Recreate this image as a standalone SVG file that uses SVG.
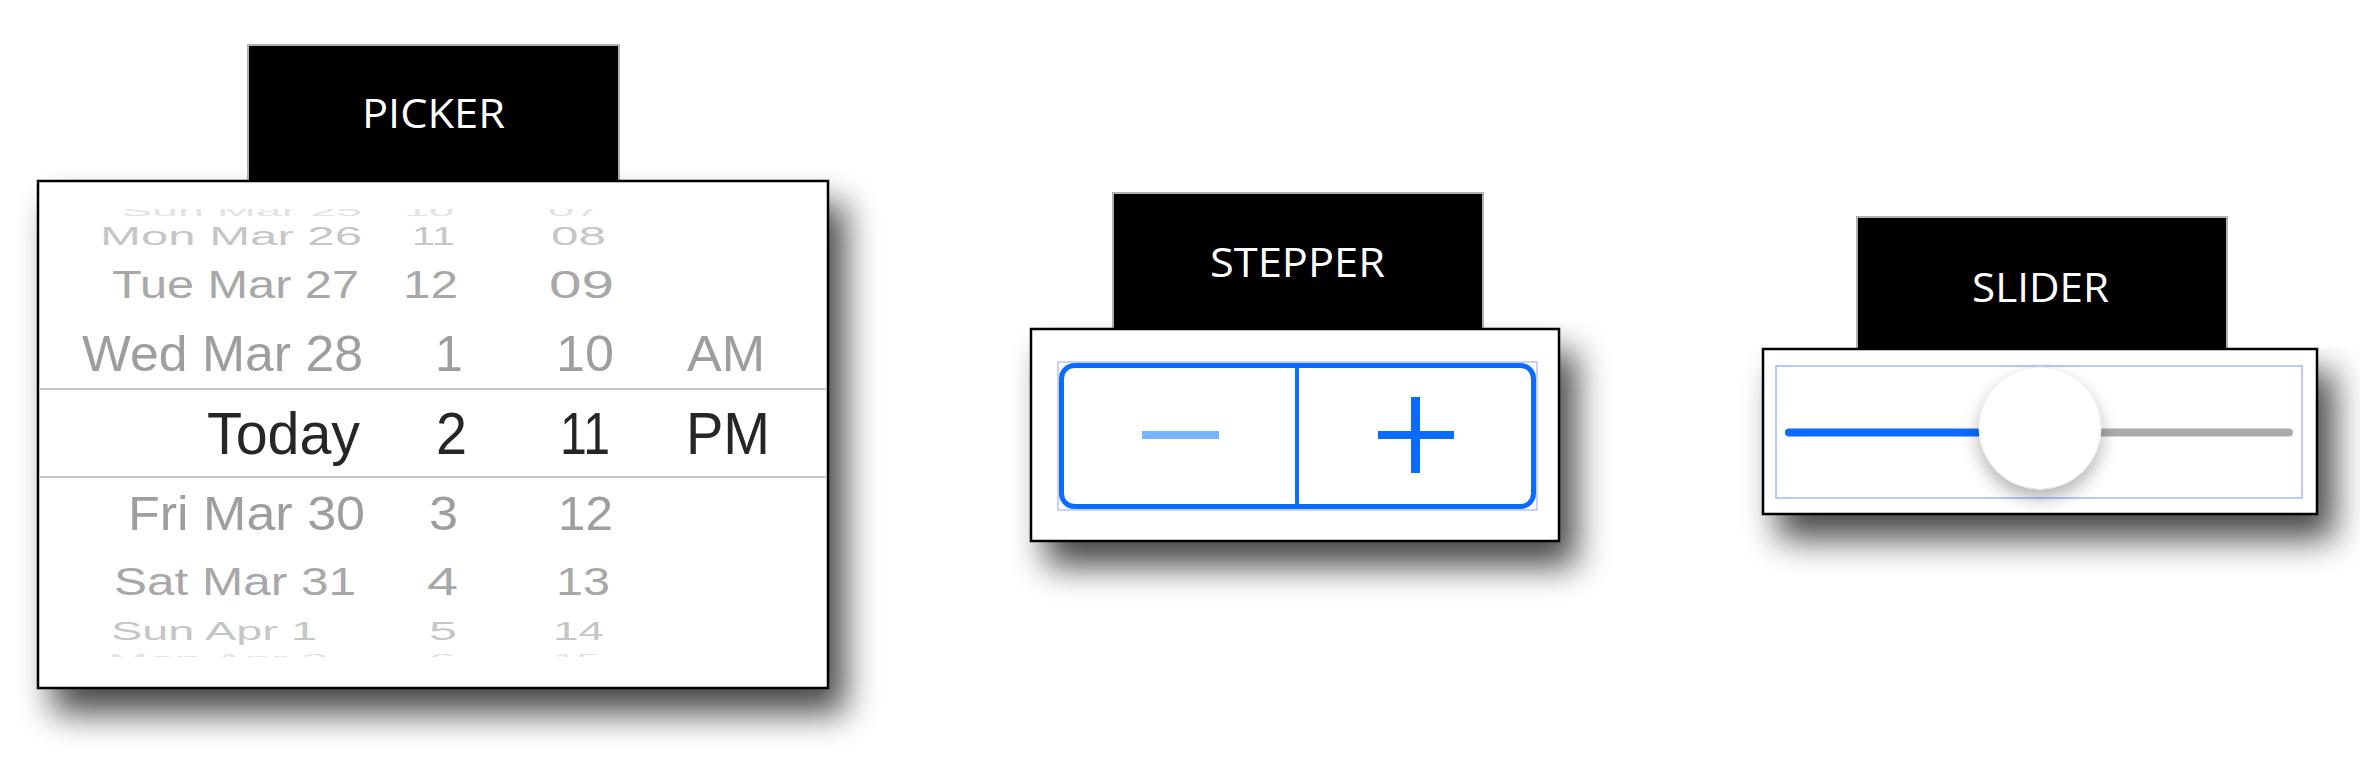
<svg xmlns="http://www.w3.org/2000/svg" width="2360" height="778" viewBox="0 0 2360 778">
<defs>
<filter id="boxShadow" x="-15%" y="-15%" width="140%" height="170%">
<feGaussianBlur in="SourceAlpha" stdDeviation="17"/>
<feOffset dx="16" dy="24" result="b"/>
<feComponentTransfer><feFuncA type="linear" slope="0.72"/></feComponentTransfer>
<feMerge><feMergeNode/><feMergeNode in="SourceGraphic"/></feMerge>
</filter>
<filter id="thumbShadow" x="-40%" y="-40%" width="180%" height="200%">
<feGaussianBlur in="SourceAlpha" stdDeviation="9"/>
<feOffset dx="0" dy="9"/>
<feComponentTransfer><feFuncA type="linear" slope="0.3"/></feComponentTransfer>
<feMerge><feMergeNode/><feMergeNode in="SourceGraphic"/></feMerge>
</filter>
<clipPath id="wheelClip"><rect x="40" y="209" width="786" height="448"/></clipPath>
</defs>
<style>
.label{fill:#000;stroke:#b0b0b0;stroke-width:2}
.ltext{fill:#fff;font-family:"Open Sans","Noto Sans",sans-serif;font-size:41px}
.box{fill:#fff;stroke:#000;stroke-width:2.5}
.p{font-family:"Liberation Sans",Arial,sans-serif}
.sep{stroke:#c8c8c8;stroke-width:2}
.c0{fill:#e2e2e2}.c1{fill:#c6c6c6}.c2{fill:#a8a8a8}.c3{fill:#9e9e9e}.c4{fill:#262626}
</style>
<rect width="2360" height="778" fill="#fff"/>

<g id="picker">
<rect class="label" x="248" y="45" width="371" height="150"/>
<text class="ltext" x="362" y="128" textLength="143" lengthAdjust="spacingAndGlyphs">PICKER</text>
<rect class="box" x="38" y="181" width="790" height="507" filter="url(#boxShadow)"/>
<g class="p" clip-path="url(#wheelClip)">
<text class="c0" x="121" y="216" font-size="14" textLength="241" lengthAdjust="spacingAndGlyphs">Sun Mar 25</text>
<text class="c0" x="404" y="216" font-size="14" textLength="50" lengthAdjust="spacingAndGlyphs">10</text>
<text class="c0" x="548" y="216" font-size="14" textLength="52" lengthAdjust="spacingAndGlyphs">07</text>

<text class="c1" x="100" y="245" font-size="25" textLength="262" lengthAdjust="spacingAndGlyphs">Mon Mar 26</text>
<text class="c1" x="412" y="245" font-size="25" textLength="43" lengthAdjust="spacingAndGlyphs">11</text>
<text class="c1" x="551" y="245" font-size="25" textLength="55" lengthAdjust="spacingAndGlyphs">08</text>

<text class="c2" x="112" y="298" font-size="39" textLength="247" lengthAdjust="spacingAndGlyphs">Tue Mar 27</text>
<text class="c2" x="403" y="298" font-size="39" textLength="55" lengthAdjust="spacingAndGlyphs">12</text>
<text class="c2" x="549" y="298" font-size="39" textLength="65" lengthAdjust="spacingAndGlyphs">09</text>

<text class="c3" x="82" y="371" font-size="50" textLength="281" lengthAdjust="spacingAndGlyphs">Wed Mar 28</text>
<text class="c3" x="449" y="371" font-size="50" text-anchor="middle">1</text>
<text class="c3" x="556" y="371" font-size="50" textLength="58" lengthAdjust="spacingAndGlyphs">10</text>
<text class="c3" x="687" y="371" font-size="50" textLength="78" lengthAdjust="spacingAndGlyphs">AM</text>

<text class="c4" x="207" y="454" font-size="60" textLength="153" lengthAdjust="spacingAndGlyphs">Today</text>
<text class="c4" x="436" y="454" font-size="60" textLength="31" lengthAdjust="spacingAndGlyphs">2</text>
<text class="c4" x="560" y="454" font-size="60" textLength="50" lengthAdjust="spacingAndGlyphs">11</text>
<text class="c4" x="686" y="454" font-size="60" textLength="84" lengthAdjust="spacingAndGlyphs">PM</text>

<text class="c3" x="128" y="530" font-size="49" textLength="237" lengthAdjust="spacingAndGlyphs">Fri Mar 30</text>
<text class="c3" x="429" y="530" font-size="49" textLength="29" lengthAdjust="spacingAndGlyphs">3</text>
<text class="c3" x="558" y="530" font-size="49" textLength="55" lengthAdjust="spacingAndGlyphs">12</text>

<text class="c2" x="114" y="595" font-size="39" textLength="242" lengthAdjust="spacingAndGlyphs">Sat Mar 31</text>
<text class="c2" x="427" y="595" font-size="39" textLength="31" lengthAdjust="spacingAndGlyphs">4</text>
<text class="c2" x="556" y="595" font-size="39" textLength="54" lengthAdjust="spacingAndGlyphs">13</text>

<text class="c1" x="111" y="640" font-size="25" textLength="206" lengthAdjust="spacingAndGlyphs">Sun Apr 1</text>
<text class="c1" x="429" y="640" font-size="25" textLength="28" lengthAdjust="spacingAndGlyphs">5</text>
<text class="c1" x="553" y="640" font-size="25" textLength="51" lengthAdjust="spacingAndGlyphs">14</text>

<text class="c0" x="108" y="664" font-size="15" textLength="220" lengthAdjust="spacingAndGlyphs">Mon Apr 2</text>
<text class="c0" x="429" y="664" font-size="15" textLength="26" lengthAdjust="spacingAndGlyphs">6</text>
<text class="c0" x="553" y="664" font-size="15" textLength="47" lengthAdjust="spacingAndGlyphs">15</text>
</g>
<line class="sep" x1="39" y1="389" x2="827" y2="389"/>
<line class="sep" x1="39" y1="477" x2="827" y2="477"/>
</g>

<g id="stepper">
<rect class="label" x="1113" y="193" width="370" height="150"/>
<text class="ltext" x="1210" y="277" textLength="175" lengthAdjust="spacingAndGlyphs">STEPPER</text>
<rect class="box" x="1031" y="329" width="528" height="212" filter="url(#boxShadow)"/>
<rect x="1058" y="362" width="479" height="148" fill="none" stroke="#a9b0ff" stroke-width="1.2"/>
<rect x="1061.5" y="365.5" width="472" height="141" rx="13" fill="#fff" stroke="#0a6cff" stroke-width="5"/>
<line x1="1297" y1="366" x2="1297" y2="506" stroke="#0a6cff" stroke-width="4"/>
<rect x="1142" y="431" width="77" height="8" fill="#78b4ff"/>
<rect x="1378" y="431" width="76" height="8" fill="#0a6cff"/>
<rect x="1411" y="397" width="9" height="76" fill="#0a6cff"/>
</g>

<g id="slider">
<rect class="label" x="1857" y="217" width="370" height="150"/>
<text class="ltext" x="1972" y="302" textLength="137" lengthAdjust="spacingAndGlyphs">SLIDER</text>
<rect class="box" x="1763" y="349" width="554" height="165" filter="url(#boxShadow)"/>
<rect x="1776" y="366" width="526" height="132" fill="none" stroke="#8fa0ff" stroke-width="1.2"/>
<line x1="1789" y1="432.5" x2="1995" y2="432.5" stroke="#0a6cff" stroke-width="8" stroke-linecap="round"/>
<line x1="2090" y1="432.5" x2="2289" y2="432.5" stroke="#aaaaaa" stroke-width="8" stroke-linecap="round"/>
<circle cx="2040" cy="428" r="61" fill="#fff" stroke="#ececec" stroke-width="1" filter="url(#thumbShadow)"/>
</g>

<g id="connectors"/>
</svg>
